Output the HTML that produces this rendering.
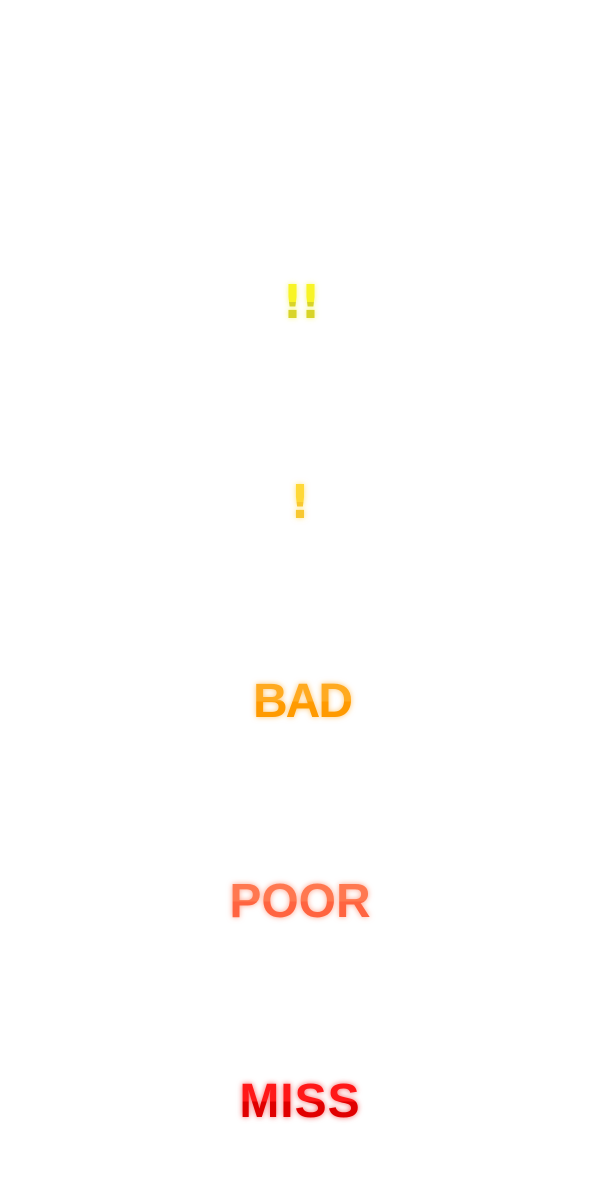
<!DOCTYPE html>
<html><head><meta charset="utf-8"><style>
html,body{margin:0;padding:0;background:#fff;width:600px;height:1200px;overflow:hidden}
.j{position:absolute;left:0;width:600px;text-align:center;font-family:"Liberation Sans",sans-serif;font-weight:bold;font-size:48px;line-height:50px;height:50px;letter-spacing:-1px}
.j span{-webkit-background-clip:text;background-clip:text;color:transparent}
.e{font-family:"DejaVu Sans",sans-serif;font-size:46px;letter-spacing:0}
</style></head><body>
<div class="j e" style="top:277px;filter:drop-shadow(0 0 3px rgba(240,240,40,.6));letter-spacing:-3px"><span style="background-image:linear-gradient(#f8f425 0,#f8f425 50%,#d8d428 50%,#d8d428 100%)">!!</span></div>
<div class="j e" style="top:477px;filter:drop-shadow(0 0 3px rgba(255,210,40,.6))"><span style="background-image:linear-gradient(#ffd838 0,#ffd838 50%,#f8c830 50%,#f8c830 100%)">!</span></div>
<div class="j" style="top:677px;filter:drop-shadow(0 0 3px rgba(255,160,20,.6));letter-spacing:-2px;padding-left:4px;box-sizing:border-box"><span style="background-image:linear-gradient(#ffaa20 0,#ffaa20 50%,#ff9a00 50%,#ff9a00 100%)">BAD</span></div>
<div class="j" style="top:877px;filter:drop-shadow(0 0 3px rgba(255,100,60,.6));letter-spacing:0"><span style="background-image:linear-gradient(#ff7850 0,#ff7850 50%,#ff6440 50%,#ff6440 100%)">POOR</span></div>
<div class="j" style="top:1077px;filter:drop-shadow(0 0 3px rgba(240,0,0,.6));letter-spacing:1px"><span style="background-image:linear-gradient(#ff1818 0,#ff1818 50%,#e00000 50%,#e00000 100%)">MISS</span></div>
</body></html>
